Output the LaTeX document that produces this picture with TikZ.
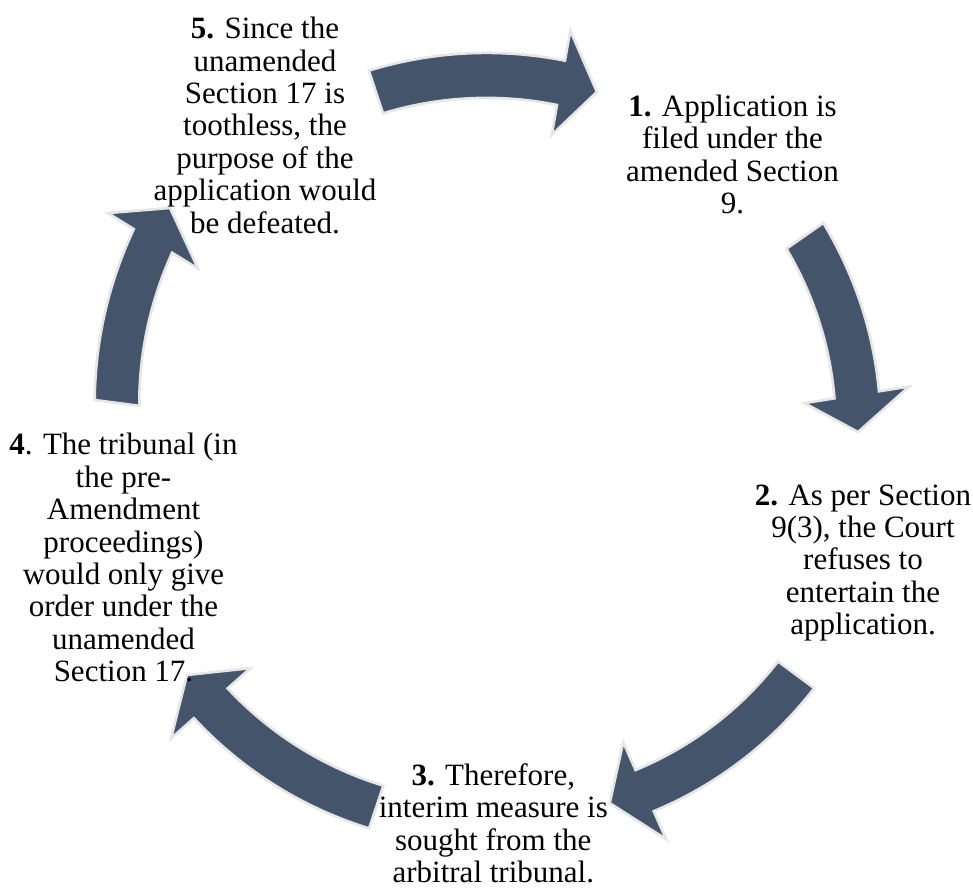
\documentclass[tikz,border=0pt]{standalone}
\usepackage{fontspec}
\setmainfont{Liberation Serif}
\usepackage{tikz}

\definecolor{cyclefill}{HTML}{44546A}
\definecolor{cycleedge}{HTML}{E6E6E6}

\tikzset{
  blockarrow/.style={fill=cyclefill, draw=cycleedge, line width=1.3pt, line join=miter},
  steptext/.style={align=center, inner sep=0pt, font=\fontsize{15.5}{16.2}\selectfont}
}

%block arc arrow round the centre of the cycle
%#1 tail angle, #2 tail radius, #3 tip angle, #4 tip radius
\newcommand{\cyclearrow}[4]{%
  \pgfmathsetmacro{\hb}{#3+\hl/#4*180/pi}
  \pgfmathsetmacro{\rb}{#2+(#4-#2)*(#1-(\hb))/(#1-(#3))}
  \filldraw[blockarrow]
    plot[domain=#1:\hb,samples=30,variable=\x] (\x:{#2+(#4-#2)*(#1-(\x))/(#1-(#3))+\bw})
    -- (\hb:{\rb+\hw}) -- (#3:#4) -- (\hb:{\rb-\hw})
    -- plot[domain=\hb:#1,samples=30,variable=\x] (\x:{#2+(#4-#2)*(#1-(\x))/(#1-(#3))-\bw})
    -- cycle;
}

\begin{document}
\begin{tikzpicture}[x=0.5pt,y=0.5pt]
	\useasboundingbox (0,0) rectangle (973,888);

	%Define the arrow sizes
	%body half width \bw, head half width \hw, head length \hl
	\pgfmathsetmacro{\bw}{22.5}
	\pgfmathsetmacro{\hw}{53}
	\pgfmathsetmacro{\hl}{37}

	%Draw the five arrows, clockwise
	\begin{scope}[shift={(495,436)}]
		\cyclearrow{108.3}{379.2}{74.2}{374.2}
		\cyclearrow{34.9}{377.8}{3.15}{363.6}
		\cyclearrow{-36.5}{374.6}{-71.9}{369.4}
		\cyclearrow{-108.5}{374.4}{-144.1}{380.3}
		\cyclearrow{172.6}{381.2}{143.1}{406.4}
	\end{scope}

	%The five steps
	\node[steptext] (stepone) at (732.5,733.7) {\textbf{1.} Application is\\filed under the\\amended Section\\9.};
	\node[steptext] (steptwo) at (863,325.1) {\textbf{2.} As per Section\\9(3), the Court\\refuses to\\entertain the\\application.};
	\node[steptext] (stepthree) at (493.3,64.5) {\textbf{3.} Therefore,\\interim measure is\\sought from the\\arbitral tribunal.};
	\node[steptext] (stepfour) at (123.5,330.2) {\textbf{4}. The tribunal (in\\the pre-\\Amendment\\proceedings)\\would only give\\order under the\\unamended\\Section 17.};
	\node[steptext] (stepfive) at (265,762.7) {\textbf{5.} Since the\\unamended\\Section 17 is\\toothless, the\\purpose of\ the\\application would\\be defeated.};

\end{tikzpicture}
\end{document}
